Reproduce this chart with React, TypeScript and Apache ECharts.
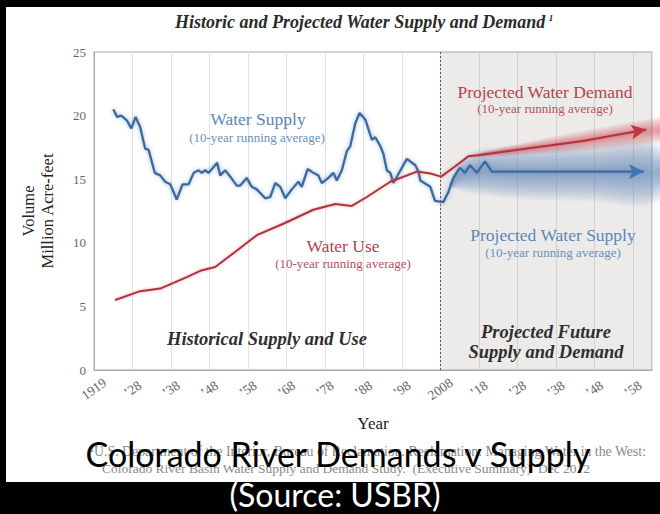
import React, { useEffect, useRef } from "react";
import * as echarts from "echarts";

// Historic + projected water supply (10-year running average), million acre-feet
const supplyYears = [
  1923.0, 1924.0, 1925.1, 1926.6, 1927.7, 1928.8, 1930.0, 1931.3, 1932.2, 1933.8,
  1935.2, 1936.5, 1937.8, 1939.5, 1941.0, 1942.6, 1943.9, 1945.2, 1946.0, 1946.9,
  1947.8, 1950.0, 1950.8, 1952.1, 1953.4, 1955.1, 1956.0, 1957.7, 1959.0, 1960.3,
  1962.5, 1963.8, 1965.1, 1966.4, 1967.7, 1969.4, 1971.1, 1972.0, 1973.5, 1975.0,
  1976.3, 1977.2, 1978.9, 1980.2, 1981.1, 1982.4, 1983.7, 1984.6, 1985.9, 1987.0,
  1988.5, 1990.2, 1991.1, 1992.4, 1993.2, 1994.1, 1995.0, 1995.8, 1999.3, 2001.5,
  2002.3, 2002.8, 2005.4, 2006.6, 2008.8, 2010.1, 2011.4, 2013.1, 2014.4, 2015.7,
  2017.5, 2019.6, 2021.4, 2060.9,
];
const supplyValues = [
  20.5, 19.9, 20.0, 19.6, 19.0, 19.9, 19.1, 17.4, 17.3, 15.5,
  15.3, 14.8, 14.6, 13.4, 14.6, 14.6, 15.5, 15.7, 15.5, 15.7,
  15.5, 16.3, 15.3, 15.7, 15.2, 14.5, 14.5, 15.1, 14.4, 14.2,
  13.5, 13.6, 14.7, 14.4, 13.5, 14.2, 14.8, 14.4, 15.8, 15.5,
  15.3, 14.7, 15.1, 15.5, 14.9, 15.7, 17.2, 17.6, 19.4, 20.2,
  19.7, 18.1, 18.3, 17.6, 17.0, 15.7, 15.5, 14.7, 16.6, 16.1,
  15.6, 14.9, 14.4, 13.3, 13.2, 14.0, 15.1, 15.9, 15.5, 16.1,
  15.5, 16.4, 15.6, 15.6,
];

// Historic + projected water use / demand (10-year running average)
const useYears = [
  1923.5, 1930.0, 1935.2, 1942.1, 1945.6, 1949.5, 1954.3, 1960.3, 1967.2, 1975.0,
  1980.7, 1985.0, 1988.9, 1995.0, 2001.9, 2005.4, 2008.2, 2011.8, 2015.3, 2018.3,
  2030.0, 2045.0, 2061.5,
];
const useValues = [
  5.5, 6.2, 6.4, 7.3, 7.8, 8.1, 9.2, 10.6, 11.5, 12.6,
  13.05, 12.9, 13.6, 14.8, 15.6, 15.45, 15.2, 16.0, 16.8, 16.9,
  17.4, 18.0, 18.9,
];

// Uncertainty glow around projections
const supplyBandYears = [2010.5, 2013, 2016, 2020, 2030, 2045, 2065];
const supplyBandCenter = [14.6, 15.2, 15.5, 15.6, 15.5, 15.5, 15.5];
const supplyBandHalf = [0.2, 1.1, 1.6, 1.9, 2.1, 2.2, 2.2];

const demandBandYears = [2016, 2019, 2030, 2045, 2063, 2066];
const demandBandCenter = [16.8, 16.95, 17.4, 18.0, 18.8, 18.9];
const demandBandHalf = [0, 0.2, 0.5, 0.8, 1.0, 1.0];

// Axis settings
const yTicks = [0, 5, 10, 15, 20, 25];
const xStart = 1918;
const xEnd = 2063;
const projectionStart = 2008;

const SERIF = '"Liberation Serif", "DejaVu Serif", serif';
const SANS = "Lato, 'Open Sans', sans-serif";

function xLabel(v: number): string {
  if (v === 1918) return "1919";
  if (v === 2008) return "2008";
  if (v > 2058) return "";
  return "\u2019" + String(v % 100).padStart(2, "0");
}

function bandRender(years: number[], center: number[], half: number[], color: string, layers: number, opacity: number) {
  return (params: any, api: any) => {
    if (params.dataIndex !== 0) return null;
    const children: any[] = [];
    for (let k = layers; k >= 1; k--) {
      const f = k / layers;
      const top = years.map((yr, i) => api.coord([yr, center[i] + half[i] * f]));
      const bot = years.map((yr, i) => api.coord([yr, center[i] - half[i] * f])).reverse();
      children.push({
        type: "polygon",
        shape: { points: top.concat(bot), smooth: 0.4 },
        style: { fill: color, opacity },
        silent: true,
      });
    }
    return { type: "group", children };
  };
}

export default function App() {
  const ref = useRef<HTMLDivElement>(null);
  useEffect(() => {
    if (!ref.current) return;
    const chart = echarts.init(ref.current, null, { renderer: "svg" });

    const supplyData: any[] = supplyYears.map((y, i) => [y, supplyValues[i]]);
    const last = supplyData.length - 1;
    supplyData[last] = { value: supplyData[last], symbol: "arrow", symbolSize: [11, 15], symbolRotate: -90 };
    const useData: any[] = useYears.map((y, i) => [y, useValues[i]]);
    const lu = useData.length - 1;
    useData[lu] = { value: useData[lu], symbol: "arrow", symbolSize: [11, 15], symbolRotate: -81 };

    const txt = (text: string, x: number, y: number, size: number, fill: string, extra: any = {}) => ({
      type: "text",
      x,
      y,
      z: 50,
      style: {
        text,
        fill,
        fontSize: size,
        fontFamily: SERIF,
        align: "center",
        verticalAlign: "middle",
        ...extra,
      },
    });

    chart.setOption({
      animation: false,
      backgroundColor: "#ffffff",
      title: {
        text: "{t|Historic and Projected Water Supply and Demand}{s|1}",
        left: 170,
        top: 8,
        textStyle: {
          rich: {
            t: { fontFamily: SERIF, fontStyle: "italic", fontWeight: "bold", fontSize: 18, color: "#2a2a2a" },
            s: { fontFamily: SERIF, fontStyle: "italic", fontSize: 9, color: "#2a2a2a", verticalAlign: "top", padding: [0, 0, 6, 3] },
          },
        },
      },
      grid: { left: 94, right: 8, top: 52, bottom: 144, show: true, borderColor: "#a8a8a8", borderWidth: 1 },
      xAxis: {
        type: "value",
        min: xStart,
        max: xEnd,
        interval: 10,
        name: "Year",
        nameLocation: "middle",
        nameGap: 45,
        nameTextStyle: { fontFamily: SERIF, fontSize: 17, color: "#222" },
        axisLine: { show: true, lineStyle: { color: "#a8a8a8" } },
        axisTick: { show: false },
        splitLine: { show: true, lineStyle: { color: "#e2e2e2", width: 1 } },
        axisLabel: {
          formatter: xLabel,
          rotate: 35,
          align: "center",
          verticalAlign: "middle",
          margin: 19,
          fontFamily: SERIF,
          fontSize: 13.5,
          color: "#666",
          showMaxLabel: false,
        },
      },
      yAxis: {
        type: "value",
        min: yTicks[0],
        max: yTicks[yTicks.length - 1],
        interval: 5,
        name: "Volume\nMillion Acre-feet",
        nameLocation: "middle",
        nameRotate: 90,
        nameGap: 37,
        nameTextStyle: { fontFamily: SERIF, fontSize: 16.5, color: "#222", lineHeight: 19 },
        axisLine: { show: true, lineStyle: { color: "#a8a8a8" } },
        axisTick: { show: false },
        splitLine: { show: false },
        axisLabel: { fontFamily: SERIF, fontSize: 13, color: "#666", margin: 8 },
      },
      series: [
        {
          type: "line",
          name: "projection-area",
          data: [],
          silent: true,
          z: 1,
          markArea: {
            silent: true,
            itemStyle: { color: "rgba(130,120,110,0.15)" },
            data: [[{ xAxis: projectionStart, yAxis: 0 }, { xAxis: xEnd, yAxis: 25 }]],
          },
          markLine: {
            silent: true,
            symbol: "none",
            label: { show: false },
            lineStyle: { type: [2, 2], color: "#555", width: 1 },
            data: [{ xAxis: projectionStart }],
          },
        },
        {
          type: "custom",
          name: "supply-band",
          silent: true,
          clip: false,
          z: 2,
          data: supplyBandYears.map((y, i) => [y, supplyBandCenter[i]]),
          renderItem: bandRender(supplyBandYears, supplyBandCenter, supplyBandHalf, "#4473b3", 12, 0.065),
        },
        {
          type: "custom",
          name: "demand-band",
          silent: true,
          clip: false,
          z: 2,
          data: demandBandYears.map((y, i) => [y, demandBandCenter[i]]),
          renderItem: bandRender(demandBandYears, demandBandCenter, demandBandHalf, "#d0404c", 8, 0.08),
        },
        {
          type: "line",
          name: "Water Supply",
          data: supplyData,
          symbol: "none",
          showSymbol: true,
          z: 5,
          lineStyle: { color: "#3a6a9f", width: 2.3, shadowBlur: 4, shadowColor: "rgba(90,130,190,0.6)" },
          itemStyle: { color: "#3d75b5" },
        },
        {
          type: "line",
          name: "Water Use",
          data: useData,
          symbol: "none",
          showSymbol: true,
          z: 5,
          lineStyle: { color: "#b3303c", width: 2, shadowBlur: 3, shadowColor: "rgba(200,90,100,0.5)" },
          itemStyle: { color: "#c2343f" },
        },
      ],
      graphic: [
        txt("Water Supply", 258, 119, 17.5, "#5b86b8"),
        txt("(10-year running average)", 257, 137, 13, "#6a90bd"),
        txt("Water Use", 343, 246, 17.5, "#b8424c"),
        txt("(10-year running average)", 343, 263, 13, "#bb5058"),
        txt("Projected Water Demand", 545, 92, 17.5, "#b8424c"),
        txt("(10-year running average)", 545, 108, 13, "#bb5058"),
        txt("Projected Water Supply", 553, 235, 17.5, "#5b86b8"),
        txt("(10-year running average)", 553, 252, 13, "#6a90bd"),
        txt("Historical Supply and Use", 267, 339, 18.5, "#2f2f2f", { fontStyle: "italic", fontWeight: "bold" }),
        txt("Projected Future", 546, 332, 18.5, "#2f2f2f", { fontStyle: "italic", fontWeight: "bold" }),
        txt("Supply and Demand", 546, 352, 18.5, "#2f2f2f", { fontStyle: "italic", fontWeight: "bold" }),
        txt("\u00b9U.S. Department of the Interior, Bureau of Reclamation. Reclamation: Managing Water in the West:", 368, 451, 13.8, "#8a8a8a"),
        txt("Colorado River Basin Water Supply and Demand Study.  (Executive Summary)  Dec 2012", 346, 468, 13.5, "#8a8a8a"),
        txt("Colorado River Demands v Supply", 338, 453, 34, "#000", { fontFamily: SANS }),
        { type: "rect", z: 100, shape: { x: 0, y: 0, width: 6, height: 514 }, style: { fill: "#000" } },
        { type: "rect", z: 100, shape: { x: 0, y: 0, width: 660, height: 7 }, style: { fill: "#000" } },
        { type: "rect", z: 100, shape: { x: 0, y: 482, width: 660, height: 32 }, style: { fill: "#000" } },
        { ...txt("(Source: USBR)", 335, 494, 32, "#fff", { fontFamily: SANS, lineHeight: 30 }), z: 101 },
      ],
    });
    return () => chart.dispose();
  }, []);
  return <div ref={ref} style={{ position: "absolute", left: 0, top: 0, width: 660, height: 514 }} />;
}
